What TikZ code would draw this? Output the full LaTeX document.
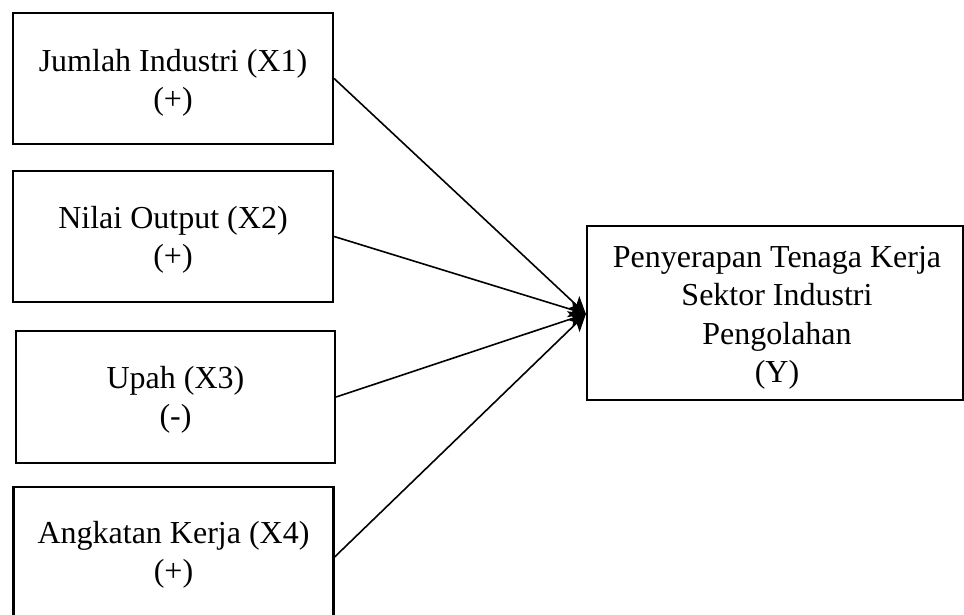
\documentclass[tikz,border=0pt]{standalone}
\usepackage{fontspec}
\setmainfont{Liberation Serif}
\usetikzlibrary{arrows.meta}
\begin{document}
\begin{tikzpicture}[x=1pt,y=-1pt,
  varbox/.style={draw,line width=2.2pt,rectangle,inner sep=0pt},
  vartext/.style={align=center,inner sep=0pt,font=\fontsize{32}{38.5}\selectfont},
  link/.style={line width=1.6pt,-{Stealth[length=17pt,width=17pt,inset=4pt]}}]
\useasboundingbox (0,0) rectangle (964,615);
\clip (0,0) rectangle (964,615);
\fill[white] (0,0) rectangle (964,615);
\node[varbox,minimum width=320pt,minimum height=131pt] (x1) at (173,78.5) {};
\node[vartext] (t1) at (173,83) {Jumlah Industri (X1)\\(+)};
\node[varbox,minimum width=320pt,minimum height=131pt] (x2) at (173,236.5) {};
\node[vartext] (t2) at (173,240) {Nilai Output (X2)\\(+)};
\node[varbox,minimum width=319pt,minimum height=132pt] (x3) at (175.5,397) {};
\node[vartext] (t3) at (175.5,400) {Upah (X3)\\(-)};
\node[varbox,minimum width=320pt,minimum height=130pt] (x4) at (173.5,552) {};
\node[vartext] (t4) at (173.5,555) {Angkatan Kerja (X4)\\(+)};
\node[varbox,minimum width=376pt,minimum height=174pt] (y) at (775,313) {};
\node[vartext] (ty) at (777,318) {Penyerapan Tenaga Kerja\\Sektor Industri\\Pengolahan\\(Y)};
\coordinate (tip) at ([yshift=-1pt]y.west);
\draw[link] (x1.east) -- (tip);
\draw[link] (x2.east) -- (tip);
\draw[link] (x3.east) -- (tip);
\draw[link] ([yshift=-5pt]x4.east) -- (tip);
\end{tikzpicture}
\end{document}
